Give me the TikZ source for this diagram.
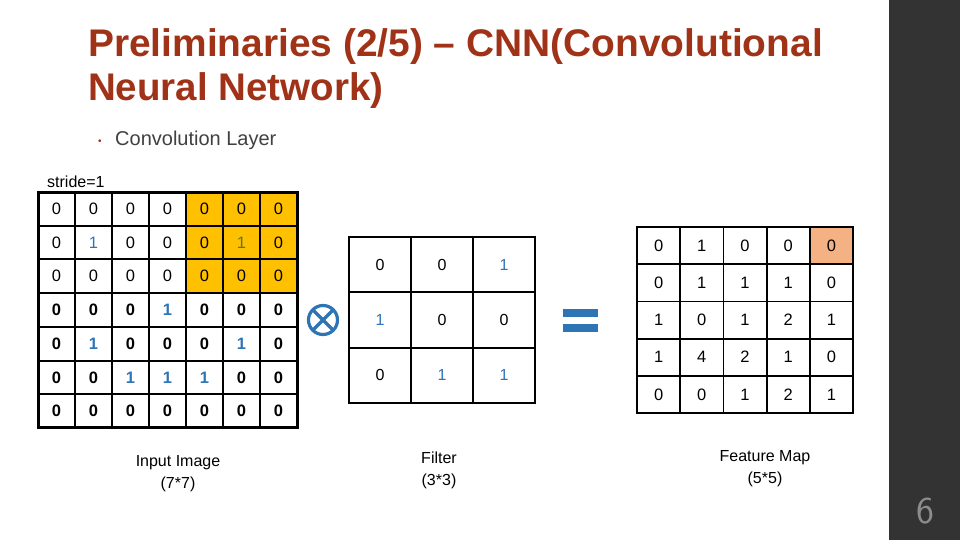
\documentclass[tikz,border=0pt]{standalone}
\usepackage{fontspec}
\setmainfont{Liberation Sans}
\definecolor{titlecol}{RGB}{160,50,24}
\definecolor{numblue}{RGB}{46,117,182}
\definecolor{numgreen}{RGB}{84,120,46}
\definecolor{hiorange}{RGB}{255,192,0}
\definecolor{hisalmon}{RGB}{244,177,131}
\definecolor{darkbar}{RGB}{51,51,51}
\definecolor{pagenum}{RGB}{140,140,140}
\definecolor{bodygray}{RGB}{64,64,64}
\begin{document}
\begin{tikzpicture}[x=1pt,y=-1pt,
  incell/.style={draw,line width=2pt,minimum width=37pt,minimum height=33.7pt,inner sep=0pt,outer sep=0pt,font=\fontsize{16.5}{19}\selectfont},
  ficell/.style={draw,line width=1.8pt,minimum width=62pt,minimum height=55.3pt,inner sep=0pt,outer sep=0pt,font=\fontsize{16}{19}\selectfont},
  fmcell/.style={draw,line width=1.8pt,minimum width=43.2pt,minimum height=37.2pt,inner sep=0pt,outer sep=0pt,font=\fontsize{16.5}{19}\selectfont},
  lbl/.style={align=center,font=\fontsize{16}{22}\selectfont},
  titletxt/.style={anchor=base west,inner sep=0pt,text=titlecol,font=\fontsize{38.5}{44}\selectfont\bfseries},
  bluesym/.style={numblue}]
\useasboundingbox (0,0) rectangle (960,540);
\fill[white] (0,0) rectangle (960,540);
\fill[darkbar] (889,0) rectangle (960,540);
\node[text=pagenum,font=\fontsize{38}{40}\selectfont\sffamily] (pnum) at (925,511) {6};

% title
\node[titletxt] (title1) at (88,57) {\scalebox{1.01}[1]{Preliminaries (2/5) -- CNN(Convolutional}};
\node[titletxt] (title2) at (88,101) {Neural Network)};
\node[anchor=base west,inner sep=0pt,text=titlecol,font=\fontsize{10}{12}\selectfont] (bullet) at (98,145) {•};
\node[anchor=base west,inner sep=0pt,text=bodygray,font=\fontsize{20}{22}\selectfont] (bullettext) at (115,146) {Convolution Layer};
\node[anchor=base west,inner sep=0pt,font=\fontsize{16}{19}\selectfont] (stride) at (47,187) {stride=1};

% input image 7x7
\foreach \row [count=\r] in {{0,0,0,0,0,0,0},{0,1,0,0,0,1,0},{0,0,0,0,0,0,0},{0,0,0,1,0,0,0},{0,1,0,0,0,1,0},{0,0,1,1,1,0,0},{0,0,0,0,0,0,0}}{
  \foreach \v [count=\c] in \row {
    \ifnum\r<4 \ifnum\c>4 \def\cf{hiorange}\else\def\cf{white}\fi\else\def\cf{white}\fi
    \node[incell,fill=\cf] (in-\r-\c) at ({38+37*(\c-0.5)},{192+33.7*(\r-0.5)})
      {\ifnum\r>3 \bfseries\fi\ifnum\v=1 \ifnum\r<4 \ifnum\c>4 \color{numgreen}\else\color{numblue}\fi\else\color{numblue}\fi\fi\v};
  }
}
\draw[line width=3pt] (in-1-1.north west) rectangle (in-7-7.south east);

% convolution symbol
\node[circle,draw=numblue,line width=3.2pt,minimum size=29pt,inner sep=0pt,outer sep=0pt] (otimes) at (323,320) {};
\draw[numblue,line width=3.2pt] (otimes.north west) -- (otimes.south east);
\draw[numblue,line width=3.2pt] (otimes.north east) -- (otimes.south west);

% filter 3x3
\foreach \row [count=\r] in {{0,0,1},{1,0,0},{0,1,1}}{
  \foreach \v [count=\c] in \row {
    \node[ficell] (fi-\r-\c) at ({349+62*(\c-0.5)},{237+55.3*(\r-0.5)})
      {\ifnum\v=1 \color{numblue}\fi\v};
  }
}

% equals sign
\node[fill=numblue,minimum width=35pt,minimum height=8pt,inner sep=0pt] (eqtop) at (580.5,313) {};
\node[fill=numblue,minimum width=35pt,minimum height=8pt,inner sep=0pt] (eqbot) at (580.5,328) {};

% feature map 5x5
\foreach \row [count=\r] in {{0,1,0,0,0},{0,1,1,1,0},{1,0,1,2,1},{1,4,2,1,0},{0,0,1,2,1}}{
  \foreach \v [count=\c] in \row {
    \ifnum\r=1 \ifnum\c=5 \def\cf{hisalmon}\else\def\cf{white}\fi\else\def\cf{white}\fi
    \node[fmcell,fill=\cf] (fm-\r-\c) at ({637+43.2*(\c-0.5)},{227+37.2*(\r-0.5)}) {\v};
  }
}
\draw[line width=2pt] (fm-1-1.north west) rectangle (fm-5-5.south east);

% labels
\node[lbl] (inlbl) at (178,474) {Input Image\\(7*7)};
\node[lbl] (filbl) at (439,470) {Filter\\(3*3)};
\node[lbl] (fmlbl) at (765,469) {Feature Map\\(5*5)};
\end{tikzpicture}
\end{document}
